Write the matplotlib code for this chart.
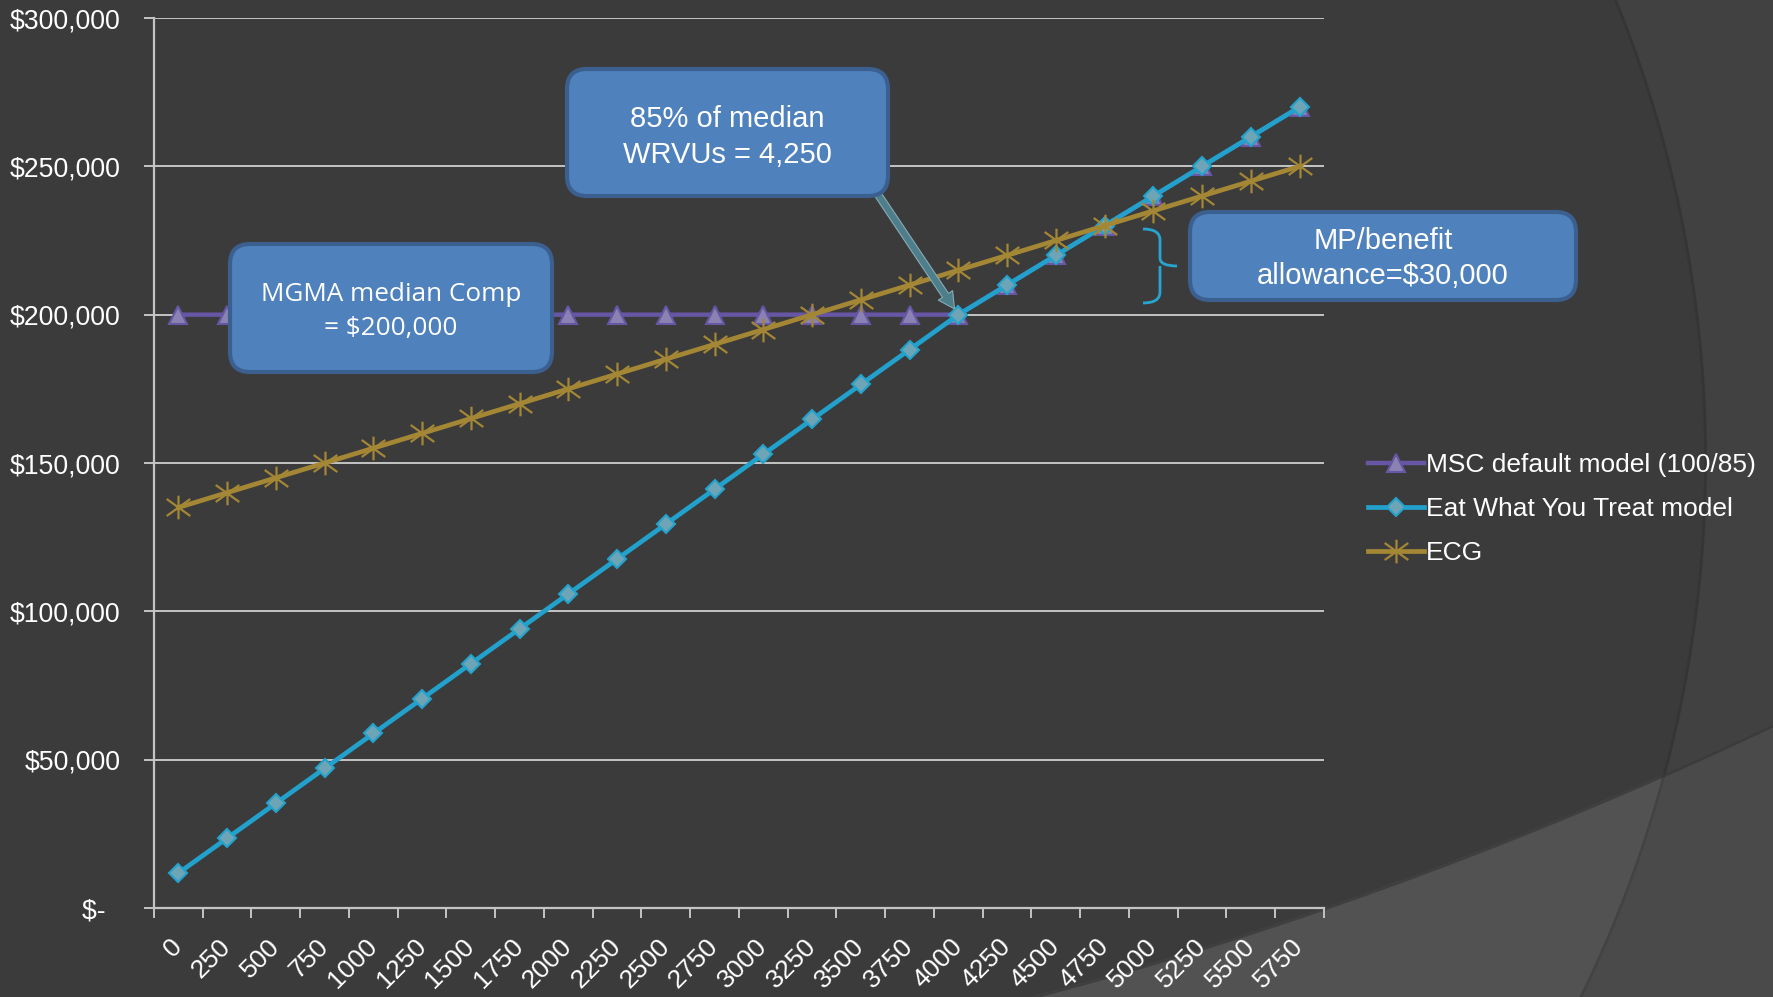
import numpy as np
import matplotlib
matplotlib.use("Agg")
import matplotlib.pyplot as plt
import matplotlib.transforms as mtransforms
from matplotlib.patches import FancyBboxPatch, Polygon, PathPatch
from matplotlib.path import Path
from matplotlib.lines import Line2D

# ---------------- data ----------------
categories = ['0', '250', '500', '750', '1000', '1250', '1500', '1750', '2000', '2250',
              '2500', '2750', '3000', '3250', '3500', '3750', '4000', '4250', '4500',
              '4750', '5000', '5250', '5500', '5750']
msc_default = [200000, 200000, 200000, 200000, 200000, 200000, 200000, 200000, 200000,
               200000, 200000, 200000, 200000, 200000, 200000, 200000, 200000, 210000,
               220000, 230000, 240000, 250000, 260000, 270000]
eat_what_you_treat = [11765, 23529, 35294, 47059, 58824, 70588, 82353, 94118, 105882,
                      117647, 129412, 141176, 152941, 164706, 176471, 188235, 200000,
                      210000, 220000, 230000, 240000, 250000, 260000, 270000]
ecg = [135000, 140000, 145000, 150000, 155000, 160000, 165000, 170000, 175000, 180000,
       185000, 190000, 195000, 200000, 205000, 210000, 215000, 220000, 225000, 230000,
       235000, 240000, 245000, 250000]
series_names = ['MSC default model (100/85)', 'Eat What You Treat model', 'ECG']
y_ticks = [0, 50000, 100000, 150000, 200000, 250000, 300000]
callout_texts = ['MGMA median Comp\n= $200,000', '85% of median\nWRVUs = 4,250',
                 'MP/benefit\nallowance=$30,000']

W, H = 1774, 997
BG = '#3b3b3b'
fig = plt.figure(figsize=(W / 100, H / 100), dpi=100)
fig.patch.set_facecolor(BG)
px = mtransforms.Affine2D().scale(1 / W, -1 / H).translate(0, 1) + fig.transFigure

# ---------------- background decoration ----------------
cx, cy, r = 487, 460, 1220
ys = np.linspace(-20, H + 20, 200)
xs = cx + np.sqrt(r ** 2 - (ys - cy) ** 2)
outside = np.vstack([np.column_stack([xs, ys]), [[W + 20, H + 20], [W + 20, -20]]])
out_patch = Polygon(outside, closed=True, fc='#414141', ec='none', transform=px, zorder=-9)
fig.add_artist(out_patch)

bx = np.array([1030, 1323, 1651, 1774])
by = np.array([997, 908, 780, 724])
coef = np.polyfit(bx, by, 2)
wx = np.linspace(960, W + 20, 200)
wy = np.polyval(coef, wx)
wedge_pts = np.vstack([np.column_stack([wx, wy]), [[W + 20, H + 20], [960, H + 20]]])
wedge = Polygon(wedge_pts, closed=True, fc='#525252', ec='none', transform=px, zorder=-8)
fig.add_artist(wedge)
wedge2 = Polygon(wedge_pts, closed=True, fc='#4a4a4a', ec='none', transform=px, zorder=-7)
fig.add_artist(wedge2)
wedge2.set_clip_path(out_patch)
fig.add_artist(Line2D(wx, wy + 1.5, color='#2e2e2e', lw=2.0, alpha=0.5, transform=px, zorder=-6))
fig.add_artist(Line2D(xs - 1.5, ys, color='#2e2e2e', lw=2.0, alpha=0.4, transform=px, zorder=-6))

# ---------------- axes ----------------
L, R, T, B = 154, 1324, 18, 908
ax = fig.add_axes([L / W, 1 - B / H, (R - L) / W, (B - T) / H])
ax.set_facecolor('none')
x = np.arange(len(categories))

ax.plot(x, msc_default, color='#6656a3', lw=3.2, marker='^', ms=13,
        mfc='#8a82b2', mec='#6656a3', mew=1.5, label=series_names[0], zorder=3)
ax.plot(x, eat_what_you_treat, color='#21a1cc', lw=3.4, marker='D', ms=9.5,
        mfc='#6ea5b6', mec='#22a3cd', mew=1.5, label=series_names[1], zorder=4)
star = Path([(0, -0.5), (0, 0.5), (-0.5, -0.36), (0.5, 0.36), (-0.5, 0.36), (0.5, -0.36)],
            [Path.MOVETO, Path.LINETO, Path.MOVETO, Path.LINETO, Path.MOVETO, Path.LINETO])
ax.plot(x, ecg, color='#a48735', lw=3.4, marker=star, ms=17, mec='#a48735', mew=1.6,
        label=series_names[2], zorder=5)

ax.set_xlim(-0.5, len(categories) - 0.5)
ax.set_ylim(0, 300000)
grid_c = '#c4c4c4'
ax.set_yticks(y_ticks)
ax.set_yticklabels(['$-  ' if v == 0 else '${:,.0f}'.format(v) for v in y_ticks],
                   fontsize=19.2, color='white', family='Liberation Sans')
ax.yaxis.grid(True, color=grid_c, lw=1.4)
ax.set_axisbelow(True)
ax.tick_params(axis='y', length=7, width=1.4, color=grid_c, pad=17)

ax.set_xticks(x)
ax.set_xticks(np.arange(-0.5, len(categories), 1.0), minor=True)
ax.set_xticklabels(categories, fontsize=19, color='white', family='Liberation Sans')
ax.tick_params(axis='x', which='major', length=0, pad=25)
ax.tick_params(axis='x', which='minor', length=7, width=1.4, color=grid_c)
for lab in ax.get_xticklabels():
    lab.set_rotation(45)
    lab.set_ha('right')
    lab.set_va('center')
    lab.set_rotation_mode('anchor')

for s in ['top', 'right']:
    ax.spines[s].set_visible(False)
for s in ['left', 'bottom']:
    ax.spines[s].set_color(grid_c)
    ax.spines[s].set_linewidth(1.6)

# legend
leg = ax.legend(loc='center left', bbox_to_anchor=(1344, 509), bbox_transform=px,
                frameon=False, handlelength=2.15, handletextpad=0.05,
                labelspacing=0.76, numpoints=1, prop={'family': 'Liberation Sans', 'size': 19})
for t in leg.get_texts():
    t.set_color('white')

# ---------------- callouts ----------------
def callout(x0, y0, x1, y1, text, family, size, ls, dy):
    p = FancyBboxPatch((x0, y0), x1 - x0, y1 - y0,
                       boxstyle='round,pad=0,rounding_size=20', fc='#4f81bd', ec='#3b5f8e',
                       lw=3.0, transform=px, zorder=10)
    fig.add_artist(p)
    fig.text((x0 + x1) / 2, (y0 + y1) / 2 + dy, text, transform=px, ha='center', va='center',
             color='white', fontsize=size, family=family, linespacing=ls, zorder=11)

callout(230, 244, 552, 372, callout_texts[0], 'Open Sans', 18.8, 1.5, 3.5)
callout(567, 69, 888, 196, callout_texts[1], 'Liberation Sans', 21, 1.38, 4.5)
callout(1190, 212, 1576, 300, callout_texts[2], 'Liberation Sans', 21, 1.33, 2.5)

# arrow to 85% point
ax.annotate('', xy=(16, 200000), xycoords='data', xytext=(877, 193), textcoords=px,
            arrowprops=dict(arrowstyle='simple,head_length=0.9,head_width=0.95,tail_width=0.4',
                            fc='#4f7e8b', ec='#86aab6', lw=0.8, shrinkA=0, shrinkB=5,
                            mutation_scale=13), zorder=9)

# brace
bv = [(1143, 229), (1160, 229), (1160, 240), (1160, 258), (1160, 266), (1177, 266),
      (1160, 266), (1160, 274), (1160, 292), (1160, 303), (1143, 303)]
bc = [Path.MOVETO, Path.CURVE3, Path.CURVE3, Path.LINETO, Path.CURVE3, Path.CURVE3,
      Path.MOVETO, Path.CURVE3, Path.LINETO, Path.CURVE3, Path.CURVE3]
fig.add_artist(PathPatch(Path(bv, bc), fc='none', ec='#27a5d0', lw=2.0, transform=px, zorder=8))

fig.savefig('out.png', dpi=100, facecolor=BG)
